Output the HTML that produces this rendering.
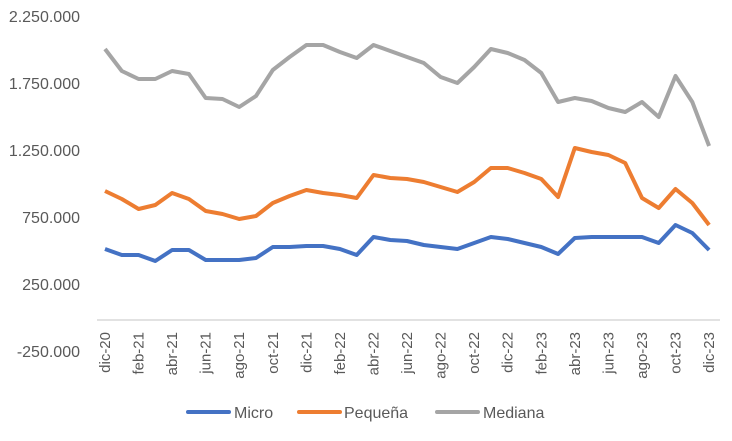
<!DOCTYPE html>
<html><head><meta charset="utf-8"><style>
html,body{margin:0;padding:0;background:#fff;}
svg{display:block;font-family:"Liberation Sans",sans-serif;}
</style></head><body>
<svg width="732" height="441" viewBox="0 0 732 441" xmlns="http://www.w3.org/2000/svg">
<g fill="#595959" font-size="16" text-anchor="end">
<text x="80" y="22">2.250.000</text>
<text x="80" y="89">1.750.000</text>
<text x="80" y="156">1.250.000</text>
<text x="80" y="223">750.000</text>
<text x="80" y="290">250.000</text>
<text x="80" y="357">-250.000</text>
</g>
<line x1="97" y1="320" x2="720" y2="320" stroke="#d9d9d9" stroke-width="1.5"/>
<g fill="#595959" font-size="15" text-anchor="end">
<text transform="translate(110.0,332) rotate(-90)">dic-20</text>
<text transform="translate(143.6,332) rotate(-90)">feb-21</text>
<text transform="translate(177.1,332) rotate(-90)">abr-21</text>
<text transform="translate(210.7,332) rotate(-90)">jun-21</text>
<text transform="translate(244.2,332) rotate(-90)">ago-21</text>
<text transform="translate(277.8,332) rotate(-90)">oct-21</text>
<text transform="translate(311.4,332) rotate(-90)">dic-21</text>
<text transform="translate(344.9,332) rotate(-90)">feb-22</text>
<text transform="translate(378.5,332) rotate(-90)">abr-22</text>
<text transform="translate(412.0,332) rotate(-90)">jun-22</text>
<text transform="translate(445.6,332) rotate(-90)">ago-22</text>
<text transform="translate(479.2,332) rotate(-90)">oct-22</text>
<text transform="translate(512.7,332) rotate(-90)">dic-22</text>
<text transform="translate(546.3,332) rotate(-90)">feb-23</text>
<text transform="translate(579.8,332) rotate(-90)">abr-23</text>
<text transform="translate(613.4,332) rotate(-90)">jun-23</text>
<text transform="translate(647.0,332) rotate(-90)">ago-23</text>
<text transform="translate(680.5,332) rotate(-90)">oct-23</text>
<text transform="translate(714.1,332) rotate(-90)">dic-23</text>
</g>
<polyline id="g" fill="none" stroke="#A5A5A5" stroke-width="4" stroke-linejoin="round"/>
<polyline id="o" fill="none" stroke="#ED7D31" stroke-width="4" stroke-linejoin="round"/>
<polyline id="b" fill="none" stroke="#4472C4" stroke-width="4" stroke-linejoin="round"/>
<g font-size="16" fill="#595959">
<line x1="188" y1="412" x2="229" y2="412" stroke="#4472C4" stroke-width="4" stroke-linecap="round"/>
<text x="234" y="418">Micro</text>
<line x1="299" y1="412" x2="340" y2="412" stroke="#ED7D31" stroke-width="4" stroke-linecap="round"/>
<text x="344" y="418">Pequeña</text>
<line x1="437" y1="412" x2="478" y2="412" stroke="#A5A5A5" stroke-width="4" stroke-linecap="round"/>
<text x="483" y="418">Mediana</text>
</g>
<script>
var G=[49,71,79,79,71,74,98,99,107,96,70,57,45,45,52,58,45,51,57,63,77,83,67,49,53,60,73,102,98,101,108,112,102,117,76,102,146];
var O=[191,199,209,205,193,199,211,214,219,216,203,196,190,193,195,198,175,178,179,182,187,192,182,168,168,173,179,197,148,152,155,163,198,208,189,203,225];
var B=[249,255,255,261,250,250,260,260,260,258,247,247,246,246,249,255,237,240,241,245,247,249,243,237,239,243,247,254,238,237,237,237,237,243,225,233,250];
function pts(a){return a.map(function(v,i){return (105+i*16.78).toFixed(1)+","+v}).join(" ");}
document.getElementById("g").setAttribute("points",pts(G));
document.getElementById("o").setAttribute("points",pts(O));
document.getElementById("b").setAttribute("points",pts(B));
</script>
</svg>
</body></html>
